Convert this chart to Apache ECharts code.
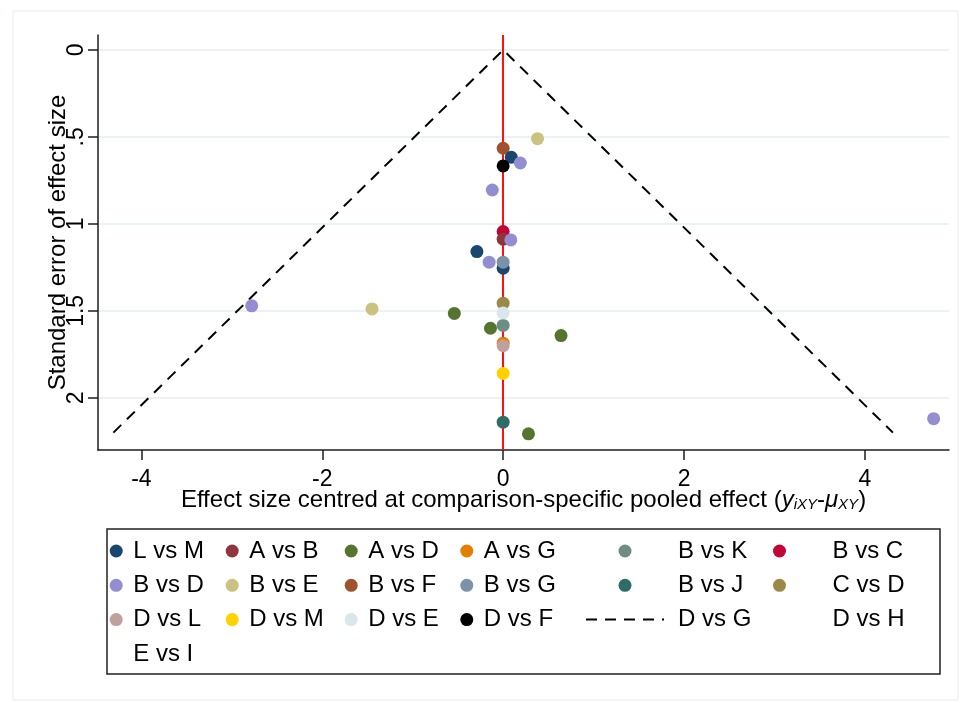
<!DOCTYPE html>
<html>
<head>
<meta charset="utf-8">
<title>funnel plot</title>
<script src="https://cdn.jsdelivr.net/npm/echarts@6/dist/echarts.min.js"></script>
<style>
    html, body { margin: 0; padding: 0; background: #fff; }
    #main { width: 972px; height: 703px; }
</style>
</head>
<body>
<div id="main"></div>
<script>
// points of each comparison: [effect size centred, standard error]
let LvsM = [[0.09, 0.617], [-0.29, 1.159], [0, 1.255]];
let AvsB = [[0, 1.088]];
let AvsD = [[-0.54, 1.515], [-0.14, 1.60], [0.64, 1.642], [0.28, 2.207]];
let AvsG = [[0, 1.686]];
let BvsK = [[0, 1.584]];
let BvsC = [[0, 1.044]];
let BvsD = [[0.19, 0.65], [-0.12, 0.805], [0.085, 1.092], [-0.155, 1.22], [-2.78, 1.471], [4.76, 2.12]];
let BvsE = [[0.38, 0.51], [-1.45, 1.489]];
let BvsF = [[0, 0.565]];
let BvsG = [[0, 1.22]];
let BvsJ = [[0, 2.14]];
let CvsD = [[0, 1.456]];
let DvsL = [[0, 1.70]];
let DvsM = [[0, 1.86]];
let DvsE = [[0, 1.512]];
let DvsF = [[0, 0.667]];

// funnel (pseudo 95% limits), drawn as "D vs G"
let funnelX = [-4.31, 0, 4.31];
let funnelSE = [2.2, 0, 2.2];

// ticks
let xTicks = [-4, -2, 0, 2, 4];
let yTicks = [0, 0.5, 1, 1.5, 2];
let yTickLabels = ['0', '.5', '1', '1.5', '2'];

let font = 'Liberation Sans';

// name, data, colour (drawing order)
let pointSeries = [
    ['B vs C', BvsC, '#c10534'],
    ['B vs F', BvsF, '#a0522d'],
    ['L vs M', LvsM, '#1a476f'],
    ['A vs B', AvsB, '#90353b'],
    ['A vs D', AvsD, '#55752f'],
    ['A vs G', AvsG, '#e37e00'],
    ['B vs K', BvsK, '#6e8e84'],
    ['B vs D', BvsD, '#938dd2'],
    ['B vs E', BvsE, '#cac27e'],
    ['B vs G', BvsG, '#7b92a8'],
    ['B vs J', BvsJ, '#2d6d66'],
    ['C vs D', CvsD, '#9c8847'],
    ['D vs L', DvsL, '#bfa19c'],
    ['D vs M', DvsM, '#ffd200'],
    ['D vs E', DvsE, '#d9e6eb'],
    ['D vs F', DvsF, '#000000'],
    ['D vs H', [], 'rgba(0,0,0,0)'],
    ['E vs I', [], 'rgba(0,0,0,0)']
];

let series = [];
// funnel lines + pooled effect line
series.push({
    name: 'D vs G',
    type: 'line',
    z: 1,
    symbol: 'none',
    data: funnelX.map(function (x, i) { return [x, funnelSE[i]]; }),
    lineStyle: { color: '#000', width: 2, type: [11, 8] },
    itemStyle: { color: '#000' },
    markLine: {
        silent: true,
        z: 1,
        symbol: 'none',
        label: { show: false },
        lineStyle: { color: '#ff1010', width: 2, type: 'solid' },
        data: [{ xAxis: 0 }]
    }
});
pointSeries.forEach(function (item) {
    series.push({
        name: item[0],
        type: 'scatter',
        symbol: 'circle',
        symbolSize: 13,
        z: 3,
        data: item[1],
        itemStyle: { color: item[2], opacity: 1 }
    });
});

// one legend per column
function makeLegend(names, left, width, pad) {
    return {
        orient: 'vertical',
        left: left,
        top: 539,
        padding: 0,
        itemWidth: width,
        itemHeight: 13,
        itemGap: 10.3,
        selectedMode: false,
        data: names,
        textStyle: { fontSize: 24, color: '#000', fontFamily: font, padding: [0, 0, 0, pad] }
    };
}

let axisLineStyle = { color: '#1e1e1e', width: 1.5 };

let myChart = echarts.init(document.getElementById('main'));
let option = {
    animation: false,
    backgroundColor: '#fff',
    textStyle: { fontFamily: font },
    grid: { left: 98, right: 23, top: 35, bottom: 253, outerBoundsMode: 'none' },
    xAxis: {
        type: 'value',
        min: -4.48,
        max: 4.93,
        name: 'Effect size centred at comparison-specific pooled effect ({it|y}{sub|iXY}-{it|μ}{sub|XY})',
        nameLocation: 'middle',
        nameGap: 38,
        nameMoveOverlap: false,
        nameTextStyle: {
            fontSize: 24, color: '#000', fontFamily: font,
            rich: {
                it: { fontSize: 24, fontStyle: 'italic', color: '#000', fontFamily: font },
                sub: { fontSize: 15, fontStyle: 'italic', color: '#000', fontFamily: font, verticalAlign: 'bottom', lineHeight: 14 }
            }
        },
        axisLine: { show: true, onZero: false, lineStyle: axisLineStyle },
        axisTick: { show: true, length: 10, customValues: xTicks, lineStyle: axisLineStyle },
        axisLabel: { customValues: xTicks, fontSize: 23, color: '#000', margin: 18 },
        splitLine: { show: false }
    },
    yAxis: {
        type: 'value',
        inverse: true,
        min: -0.086,
        max: 2.3,
        name: 'Standard error of effect size',
        nameLocation: 'middle',
        nameGap: 28,
        nameMoveOverlap: false,
        nameTextStyle: { fontSize: 24, color: '#000', fontFamily: font },
        axisLine: { show: true, onZero: false, lineStyle: axisLineStyle },
        axisTick: { show: true, length: 10, customValues: yTicks, lineStyle: axisLineStyle },
        axisLabel: {
            customValues: yTicks,
            rotate: 90,
            fontSize: 23,
            color: '#000',
            margin: 10,
            formatter: function (v) {
                let i = yTicks.indexOf(v);
                return i >= 0 ? yTickLabels[i] : '';
            }
        },
        splitLine: { show: true, lineStyle: { color: '#e6eef1', width: 1.5 } }
    },
    legend: [
        makeLegend(['L vs M', 'B vs D', 'D vs L', 'E vs I'], 109.7, 24, 0),
        makeLegend(['A vs B', 'B vs E', 'D vs M'], 225.7, 24, 0),
        makeLegend(['A vs D', 'B vs F', 'D vs E'], 344.7, 24, 0),
        makeLegend(['A vs G', 'B vs G', 'D vs F'], 460.3, 24, 0),
        makeLegend(['B vs K', 'B vs J', { name: 'D vs G', itemStyle: { opacity: 0 } }], 585, 78, 9),
        makeLegend(['B vs C', 'C vs D', 'D vs H'], 773, 78, 9)
    ],
    graphic: [
        {
            type: 'rect', silent: true,
            shape: { x: 13, y: 11, width: 945, height: 689 },
            style: { fill: 'none', stroke: '#e3ecf0', lineWidth: 1 }
        },
        {
            type: 'rect', silent: true,
            shape: { x: 107, y: 529, width: 833, height: 145 },
            style: { fill: 'none', stroke: '#222', lineWidth: 1.5 }
        }
    ],
    series: series
};
myChart.setOption(option);
</script>
</body>
</html>
